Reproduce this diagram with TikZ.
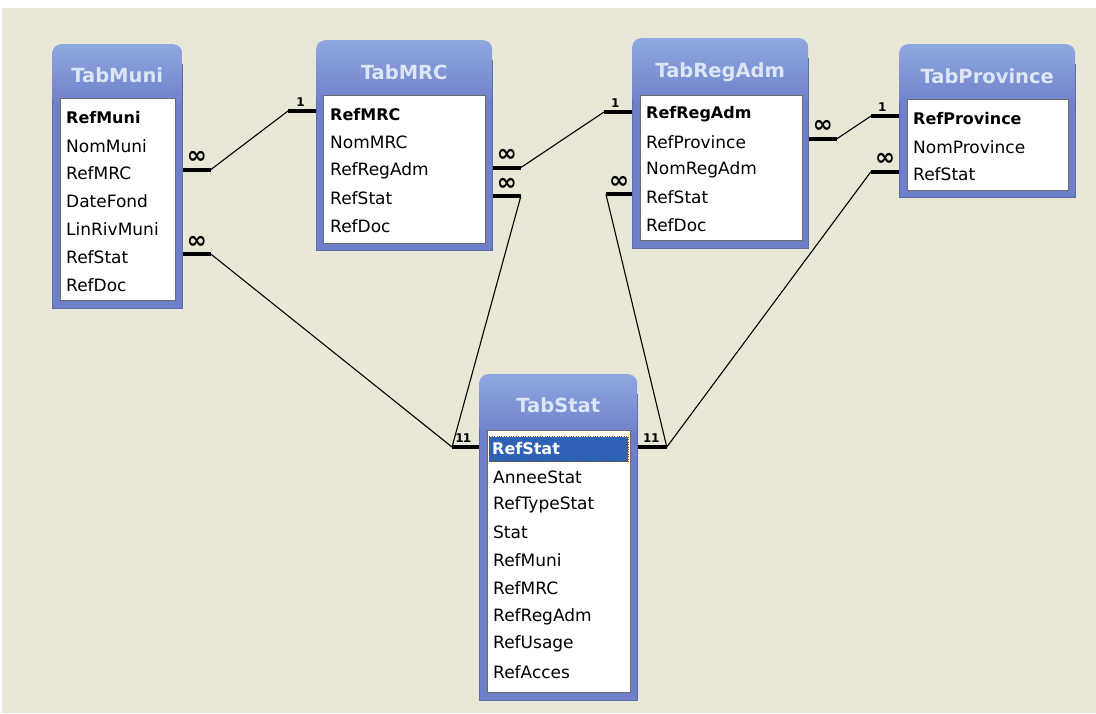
\documentclass[tikz,border=0pt]{standalone}
\usepackage{fontspec}
\setmainfont{DejaVu Sans}
\usetikzlibrary{positioning}
\definecolor{fond}{HTML}{E9E8D7}
\definecolor{cadre}{HTML}{6E7FC9}
\definecolor{cadreclair}{HTML}{8FA8DF}
\definecolor{titre}{HTML}{DCE6F6}
\definecolor{choix}{HTML}{2F62B4}
\tikzset{
  corps/.style={rectangle, fill=cadre, draw=cadre!85!black, line width=0.8pt, anchor=north west, inner sep=0pt},
  entete/.style={rectangle, rounded corners=9pt, top color=cadreclair, bottom color=cadre, anchor=north west, inner sep=0pt, font=\bfseries\fontsize{19.5}{22}\selectfont, text=titre},
  liste/.style={rectangle, fill=white, draw=gray!85!black, line width=1pt, anchor=north west, inner sep=0pt},
  champ/.style={anchor=west, inner sep=0pt, font=\fontsize{17}{20}\selectfont},
  cle/.style={champ, font=\bfseries\fontsize{16}{20}\selectfont},
  choisi/.style={cle, fill=choix, text=white, draw=orange!60!black, dotted, inner xsep=3pt, minimum height=25pt},
  lien/.style={line width=1.1pt},
  patte/.style={line width=4pt},
  plusieurs/.style={midway, above=3pt, inner sep=1pt, font=\bfseries\fontsize{24}{24}\selectfont},
  un/.style={above=2pt, inner sep=1pt, font=\bfseries\fontsize{12}{12}\selectfont}
}

\begin{document}
\begin{tikzpicture}[x=1pt, y=-1pt]
    \useasboundingbox (0,0) rectangle (1096,713);
    \fill[white] (0,0) rectangle (1096,713);
    \fill[fond] (2,8) rectangle (1096,713);

    % TabMuni
    \node[corps, minimum width=130pt, minimum height=244pt] (muni) at (52,64) {};
    \node[entete, minimum width=130pt, minimum height=62pt] (muni-titre) at (52,44) {TabMuni};
    \node[liste, minimum width=115pt, minimum height=202pt] (muni-liste) at (60,98) {};
    \node[cle] (muni-RefMuni) at (66,118) {RefMuni};
    \foreach \f [count=\i] in {NomMuni, RefMRC, DateFond, LinRivMuni, RefStat, RefDoc}
        \node[champ] (muni-\f) at (66,{118+27.8*\i}) {\f};

    % TabMRC
    \node[corps, minimum width=176pt, minimum height=190pt] (mrc) at (316,60) {};
    \node[entete, minimum width=176pt, minimum height=64pt] (mrc-titre) at (316,40) {TabMRC};
    \node[liste, minimum width=162pt, minimum height=148pt] (mrc-liste) at (323,95) {};
    \node[cle] (mrc-RefMRC) at (330,115) {RefMRC};
    \foreach \f [count=\i] in {NomMRC, RefRegAdm, RefStat, RefDoc}
        \node[champ] (mrc-\f) at (330,{115+27.8*\i}) {\f};

    % TabRegAdm
    \node[corps, minimum width=176pt, minimum height=190pt] (reg) at (632,58) {};
    \node[entete, minimum width=176pt, minimum height=68pt] (reg-titre) at (632,38) {TabRegAdm};
    \node[liste, minimum width=162pt, minimum height=145pt] (reg-liste) at (640,95) {};
    \node[cle] (reg-RefRegAdm) at (646,114) {RefRegAdm};
    \foreach \f [count=\i] in {RefProvince, NomRegAdm, RefStat, RefDoc}
        \node[champ] (reg-\f) at (646,{114+27.8*\i}) {\f};

    % TabProvince
    \node[corps, minimum width=176pt, minimum height=133pt] (prov) at (899,64) {};
    \node[entete, minimum width=176pt, minimum height=64pt] (prov-titre) at (899,44) {TabProvince};
    \node[liste, minimum width=161pt, minimum height=91pt] (prov-liste) at (907,99) {};
    \node[cle] (prov-RefProvince) at (913,119) {RefProvince};
    \foreach \f [count=\i] in {NomProvince, RefStat}
        \node[champ] (prov-\f) at (913,{119+27.8*\i}) {\f};

    % TabStat
    \node[corps, minimum width=158pt, minimum height=306pt] (stat) at (479,394) {};
    \node[entete, minimum width=158pt, minimum height=62pt] (stat-titre) at (479,374) {TabStat};
    \node[liste, minimum width=143pt, minimum height=262pt] (stat-liste) at (487,430) {};
    \node[choisi, text width=133pt] (stat-RefStat) at (489,449) {RefStat};
    \foreach \f [count=\i] in {AnneeStat, RefTypeStat, Stat, RefMuni, RefMRC, RefRegAdm, RefUsage, RefAcces}
        \node[champ] (stat-\f) at (493,{449+27.9*\i}) {\f};

    % relations
    \draw[patte] (muni.east |- muni-RefMRC) ++(0,-4) -- ++(28,0) node[plusieurs] {∞} coordinate (muni-p1);
    \draw[patte] (muni.east |- muni-RefStat) ++(0,-3) -- ++(28,0) node[plusieurs] {∞} coordinate (muni-p2);
    \draw[patte] (mrc.west |- mrc-RefMRC) ++(0,-4) -- ++(-28,0) node[un, pos=0.55] {1} coordinate (mrc-p0);
    \draw[patte] (mrc.east |- mrc-RefRegAdm) ++(0,-3) -- ++(28,0) node[plusieurs] {∞} coordinate (mrc-p1);
    \draw[patte] (mrc.east |- mrc-RefStat) ++(0,-2) -- ++(28,0) node[plusieurs] {∞} coordinate (mrc-p2);
    \draw[patte] (reg.west |- reg-RefRegAdm) ++(0,-2) -- ++(-28,0) node[un, pos=0.6] {1} coordinate (reg-p0);
    \draw[patte] (reg.west |- reg-RefStat) ++(0,-3) -- ++(-26,0) node[plusieurs] {∞} coordinate (reg-p2);
    \draw[patte] (reg.east |- reg-RefProvince) ++(0,-3) -- ++(28,0) node[plusieurs] {∞} coordinate (reg-p1);
    \draw[patte] (prov.west |- prov-RefProvince) ++(0,-3) -- ++(-28,0) node[un, pos=0.6] {1} coordinate (prov-p0);
    \draw[patte] (prov.west |- prov-RefStat) ++(0,-3) -- ++(-28,0) node[plusieurs] {∞} coordinate (prov-p2);
    \draw[patte] (stat.west |- stat-RefStat) ++(0,-2) -- ++(-27,0) node[un, pos=0.44] {1} coordinate (stat-p1);
    \draw[patte] (stat.west |- stat-RefStat) ++(0,-2) -- ++(-27,0) node[un, pos=0.72] {1} coordinate (stat-p2);
    \draw[patte] (stat.east |- stat-RefStat) ++(0,-2) -- ++(29,0) node[un, pos=0.33] {1} coordinate (stat-p3);
    \draw[patte] (stat.east |- stat-RefStat) ++(0,-2) -- ++(29,0) node[un, pos=0.6] {1} coordinate (stat-p4);

    \draw[lien] (muni-p1) -- (mrc-p0);
    \draw[lien] (muni-p2) -- (stat-p1);
    \draw[lien] (mrc-p1) -- (reg-p0);
    \draw[lien] (mrc-p2) -- (stat-p2);
    \draw[lien] (reg-p1) -- (prov-p0);
    \draw[lien] (reg-p2) -- (stat-p3);
    \draw[lien] (prov-p2) -- (stat-p4);
\end{tikzpicture}
\end{document}
